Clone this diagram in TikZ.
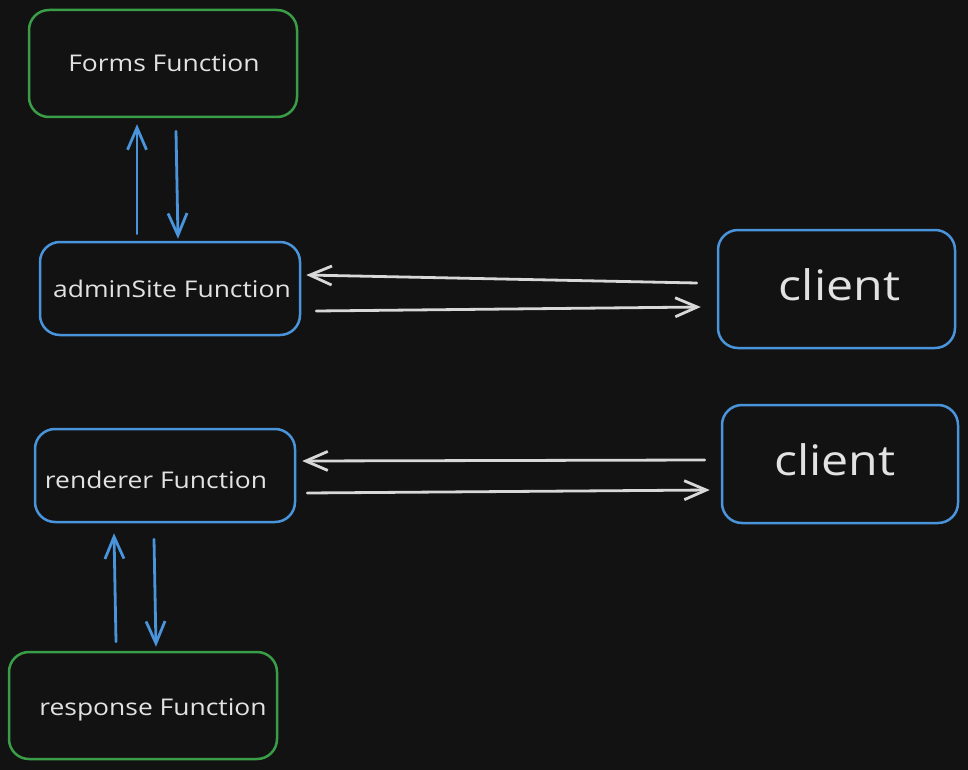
\documentclass[tikz,border=0pt]{standalone}
\usepackage{fontspec}
\setmainfont{Open Sans}[FakeStretch=1.15]
\usetikzlibrary{arrows.meta}
\definecolor{bg}{HTML}{121212}
\definecolor{boxgreen}{HTML}{3A9D48}
\definecolor{boxblue}{HTML}{4A94DC}
\definecolor{txt}{HTML}{E2E2E2}
\definecolor{arrgray}{HTML}{D8D8D8}
\tikzset{
  fbox/.style={draw=#1, line width=2.5pt, rounded corners=20pt, fill=bg, inner sep=0pt},
  smalltxt/.style={text=txt, font=\fontsize{23}{27}\selectfont},
  bigtxt/.style={text=txt, font=\fontsize{42}{48}\selectfont},
  tipv/.tip={Straight Barb[length=22pt,width=19pt,line width=2.8pt]},
  barrow/.style={draw=boxblue, line width=2.8pt, line cap=round, -tipv},
  garrow/.style={draw=arrgray, line width=2.8pt, line cap=round, -tipv},
}
\begin{document}
\begin{tikzpicture}[x=1pt,y=1pt]
\fill[bg] (0,0) rectangle (968,-770);
\useasboundingbox (0,0) rectangle (968,-770);
% boxes
\node[fbox=boxgreen, minimum width=268pt, minimum height=107pt] (forms) at (163,-63.5) {};
\node[fbox=boxblue, minimum width=260pt, minimum height=93pt] (admin) at (170,-288.5) {};
\node[fbox=boxblue, minimum width=237pt, minimum height=118pt] (client1) at (836.5,-289) {};
\node[fbox=boxblue, minimum width=260pt, minimum height=93pt] (renderer) at (165,-475.5) {};
\node[fbox=boxblue, minimum width=236pt, minimum height=118pt] (client2) at (840,-464) {};
\node[fbox=boxgreen, minimum width=268pt, minimum height=107pt] (response) at (143,-705.5) {};
% texts
\node[smalltxt] (formst) at ([xshift=1pt]forms.center) {Forms Function};
\node[smalltxt] (admint) at ([xshift=2pt]admin.center) {adminSite Function};
\node[bigtxt] (client1t) at ([xshift=3pt,yshift=4pt]client1.center) {client};
\node[smalltxt] (renderert) at ([xshift=-9pt,yshift=-4pt]renderer.center) {renderer Function};
\node[bigtxt] (client2t) at ([xshift=-5pt,yshift=4pt]client2.center) {client};
\node[smalltxt] (responset) at ([xshift=10pt,yshift=-4pt]response.center) {response Function};
% vertical arrows
\draw[barrow] ([xshift=-33pt,yshift=7pt]admin.north) -- ([xshift=-26pt,yshift=-6pt]forms.south);
\draw[barrow] ([xshift=13pt,yshift=-13pt]forms.south) -- ([xshift=8pt,yshift=2pt]admin.north);
\draw[barrow] ([xshift=-27pt,yshift=9pt]response.north) -- ([xshift=-51pt,yshift=-10pt]renderer.south);
\draw[barrow] ([xshift=-11pt,yshift=-16pt]renderer.south) -- ([xshift=13pt,yshift=4pt]response.north);
% horizontal arrows
\draw[garrow] ([xshift=-20pt,yshift=6pt]client1.west) -- ([xshift=5pt,yshift=13.5pt]admin.east);
\draw[garrow] ([xshift=15pt,yshift=-22.5pt]admin.east) -- ([xshift=-16pt,yshift=-18pt]client1.west);
\draw[garrow] ([xshift=-16pt,yshift=4pt]client2.west) -- ([xshift=6pt,yshift=14.5pt]renderer.east);
\draw[garrow] ([xshift=11pt,yshift=-17.5pt]renderer.east) -- ([xshift=-11pt,yshift=-26pt]client2.west);
\end{tikzpicture}
\end{document}
